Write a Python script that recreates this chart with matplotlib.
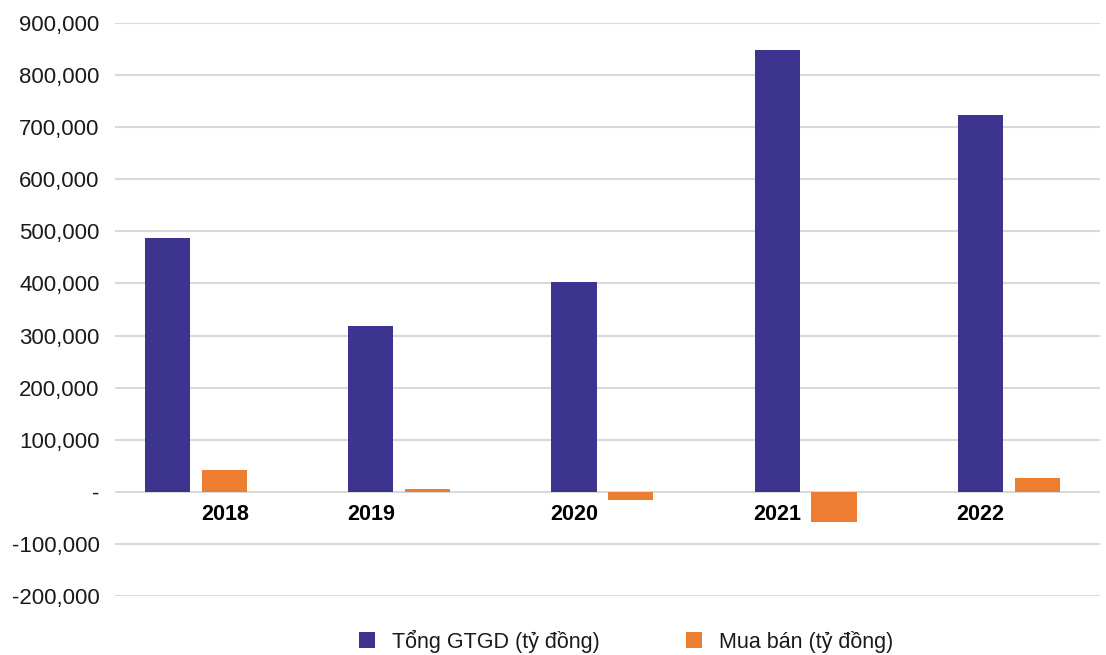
import matplotlib
matplotlib.use("Agg")
import matplotlib.pyplot as plt
import matplotlib.ticker as mticker
import numpy as np

# data (ty dong)
years = ["2018", "2019", "2020", "2021", "2022"]
tong_gtgd = [487500, 318500, 403000, 848000, 723500]
mua_ban = [42000, 6000, -15000, -58000, 27000]
series_names = ["Tổng GTGD (tỷ đồng)", "Mua bán (tỷ đồng)"]

purple = "#3d3490"
orange = "#ed7d31"
grid_col = "#d9d9d9"

plt.rcParams['font.family'] = ['Liberation Sans', 'DejaVu Sans']

fig = plt.figure(figsize=(11.06, 6.55), dpi=100)
ax = fig.add_axes([0.104, 0.0901, 0.8906, 0.8748])

x = np.arange(len(years))
w = 0.222
off = 0.14
b1 = ax.bar(x - off, tong_gtgd, w, color=purple, zorder=3, label=series_names[0])
b2 = ax.bar(x + off, mua_ban, w, color=orange, zorder=3, label=series_names[1])

ax.set_ylim(-200000, 900000)
ax.set_xlim(-0.40, 4.45)
ax.set_yticks(np.arange(-200000, 900001, 100000))
ax.yaxis.set_major_formatter(mticker.FuncFormatter(
    lambda v, p: "-" if v == 0 else f"{v:,.0f}"))
ax.tick_params(axis='y', length=0, pad=11, labelsize=16, labelcolor="#1a1a1a")
ax.set_xticks([])
ax.grid(axis='y', color=grid_col, linewidth=1.5, zorder=0)
for s in ax.spines.values():
    s.set_visible(False)

# year labels sit just under the zero line (2018 under its orange bar)
label_shift = [off, -off, -off, -off, -off]
for i, yr in enumerate(years):
    ax.annotate(yr, (x[i] + label_shift[i], 0), xytext=(0, -9),
                textcoords='offset points', ha='center', va='top',
                fontsize=15.5, fontweight='bold', color="#000000")

fig.legend(handles=[b1, b2], labels=series_names, loc='center',
           bbox_to_anchor=(0.566, 0.021), ncol=2, frameon=False,
           fontsize=15.5, handlelength=0.75, handleheight=0.75,
           handletextpad=0.8, columnspacing=4.0, labelcolor="#1a1a1a")

fig.savefig("out.png", dpi=100)
